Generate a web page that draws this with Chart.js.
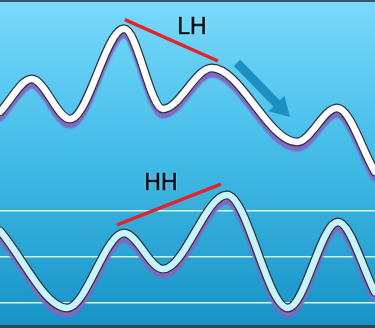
<!DOCTYPE html>
<html>
<head>
<meta charset="utf-8">
<script src="https://cdn.jsdelivr.net/npm/chart.js@4/dist/chart.umd.min.js"></script>
<style>
html,body{margin:0;padding:0;background:#fff;}
#c{display:block;}
</style>
</head>
<body>
<canvas id="c" width="375" height="328"></canvas>
<script>
// ---- data ----
const priceX   = [0, 8.5, 18.7, 33.1, 43.5, 56.5, 79.2, 89.9, 100];
const priceY   = [65.9, 75.9, 63.7, 91.2, 66.8, 79.3, 56.7, 67.1, 47.6];
const oscX     = [0, 17.9, 33.1, 43.5, 60.5, 76.8, 90.1, 100];
const oscY     = [61.3, 27.8, 60.4, 44.7, 76.9, 27.8, 65.2, 34.7];
const oscLevels = [30, 50, 70];
const lhX = [33.3, 58.1];
const lhY = [94.0, 81.4];
const hhX = [31.2, 58.9];
const hhY = [63.9, 81.7];
const labels = ['LH', 'HH'];
const labelX = [51.2, 42.9];
const labelY = [91.5, 81.7];
const arrowX = [63.2, 77.3];
const arrowY = [80.8, 64.3];

const pts = (xs, ys) => xs.map((x, i) => ({x: x, y: ys[i]}));

const bgPlugin = {
  id: 'bg',
  beforeDraw(chart) {
    const ctx = chart.ctx, w = chart.width, h = chart.height;
    ctx.save();
    const g = ctx.createLinearGradient(0, 0, 0, h);
    g.addColorStop(0, '#7adafc');
    g.addColorStop(0.45, '#45bde8');
    g.addColorStop(1, '#1692c6');
    ctx.fillStyle = g;
    ctx.fillRect(0, 0, w, h);
    ctx.restore();
  },
  afterDraw(chart) {
    const ctx = chart.ctx, w = chart.width, h = chart.height;
    ctx.save();
    ctx.fillStyle = '#3c5666';
    ctx.fillRect(0, 0, w, 2);
    ctx.fillStyle = '#2e4756';
    ctx.fillRect(0, h - 3, w, 3);
    ctx.restore();
  }
};

const shadowPlugin = {
  id: 'lineShadow',
  beforeDatasetDraw(chart, args) {
    const ds = chart.data.datasets[args.index];
    if (ds.shadow) {
      const ctx = chart.ctx;
      ctx.save();
      ctx.shadowColor = 'rgba(130,104,196,1)';
      ctx.shadowBlur = 1.5;
      ctx.shadowOffsetX = 0;
      ctx.shadowOffsetY = 5;
    }
  },
  afterDatasetDraw(chart, args) {
    const ds = chart.data.datasets[args.index];
    if (ds.shadow) chart.ctx.restore();
  }
};

const annotPlugin = {
  id: 'annot',
  afterDatasetsDraw(chart) {
    const ctx = chart.ctx;
    const xs = chart.scales.x, ys = chart.scales.y, yo = chart.scales.yOsc;
    // arrow
    const x1 = xs.getPixelForValue(arrowX[0]), y1 = ys.getPixelForValue(arrowY[0]);
    const x2 = xs.getPixelForValue(arrowX[1]), y2 = ys.getPixelForValue(arrowY[1]);
    const ang = Math.atan2(y2 - y1, x2 - x1);
    const headLen = 19, headHalf = 11;
    const bx = x2 - headLen * Math.cos(ang), by = y2 - headLen * Math.sin(ang);
    ctx.save();
    ctx.strokeStyle = '#1c8fc3';
    ctx.fillStyle = '#1c8fc3';
    ctx.lineWidth = 9;
    ctx.lineCap = 'butt';
    ctx.beginPath();
    ctx.moveTo(x1, y1);
    ctx.lineTo(bx + 2 * Math.cos(ang), by + 2 * Math.sin(ang));
    ctx.stroke();
    ctx.beginPath();
    ctx.moveTo(x2, y2);
    ctx.lineTo(bx + headHalf * Math.sin(ang), by - headHalf * Math.cos(ang));
    ctx.lineTo(bx - headHalf * Math.sin(ang), by + headHalf * Math.cos(ang));
    ctx.closePath();
    ctx.fill();
    ctx.restore();
    // labels
    ctx.save();
    ctx.font = '23px "Liberation Sans", Arial, sans-serif';
    ctx.textAlign = 'center';
    ctx.textBaseline = 'middle';
    ctx.fillStyle = '#0a141b';
    ctx.strokeStyle = '#0a141b';
    ctx.lineWidth = 0.5;
    ctx.shadowColor = 'rgba(200,240,255,0.8)';
    ctx.shadowBlur = 3;
    const lx = xs.getPixelForValue(labelX[0]), ly = ys.getPixelForValue(labelY[0]);
    const hx = xs.getPixelForValue(labelX[1]), hy = yo.getPixelForValue(labelY[1]);
    ctx.fillText(labels[0], lx, ly);
    ctx.fillText(labels[1], hx, hy);
    ctx.shadowColor = 'transparent';
    ctx.strokeText(labels[0], lx, ly);
    ctx.strokeText(labels[1], hx, hy);
    ctx.restore();
  }
};

const curveCommon = {pointRadius: 0, pointHoverRadius: 0, cubicInterpolationMode: 'monotone', fill: false, borderCapStyle: 'round', borderJoinStyle: 'round'};

new Chart(document.getElementById('c'), {
  type: 'line',
  data: {
    datasets: [
      Object.assign({label: 'LH', data: pts(lhX, lhY), borderColor: '#e3242b', borderWidth: 3.5, yAxisID: 'y', order: 0}, {pointRadius: 0, fill: false, tension: 0}),
      Object.assign({label: 'HH', data: pts(hhX, hhY), borderColor: '#e3242b', borderWidth: 3.5, yAxisID: 'yOsc', order: 0}, {pointRadius: 0, fill: false, tension: 0}),
      Object.assign({label: 'price', data: pts(priceX, priceY), borderColor: '#ffffff', borderWidth: 6.5, yAxisID: 'y', order: 1}, curveCommon),
      Object.assign({label: 'price outline', data: pts(priceX, priceY), borderColor: '#2b3640', borderWidth: 9, yAxisID: 'y', order: 2, shadow: true}, curveCommon),
      Object.assign({label: 'osc', data: pts(oscX, oscY), borderColor: '#c9f3fa', borderWidth: 6.5, yAxisID: 'yOsc', order: 1}, curveCommon),
      Object.assign({label: 'osc outline', data: pts(oscX, oscY), borderColor: '#2b3640', borderWidth: 9, yAxisID: 'yOsc', order: 2, shadow: true}, curveCommon)
    ]
  },
  options: {
    responsive: false,
    animation: false,
    events: [],
    layout: {padding: 0},
    plugins: {legend: {display: false}, tooltip: {enabled: false}},
    scales: {
      x: {type: 'linear', min: 0, max: 100, display: false},
      y: {type: 'linear', min: 0, max: 100, display: false},
      yOsc: {
        type: 'linear', min: 19.1, max: 161.7, position: 'left',
        afterBuildTicks(scale) { scale.ticks = oscLevels.map(v => ({value: v})); },
        afterFit(scale) { scale.width = 0; },
        ticks: {display: false},
        border: {display: false},
        grid: {color: '#d6f4fc', lineWidth: 1.5, drawTicks: false}
      }
    }
  },
  plugins: [bgPlugin, shadowPlugin, annotPlugin]
});
</script>
</body>
</html>
